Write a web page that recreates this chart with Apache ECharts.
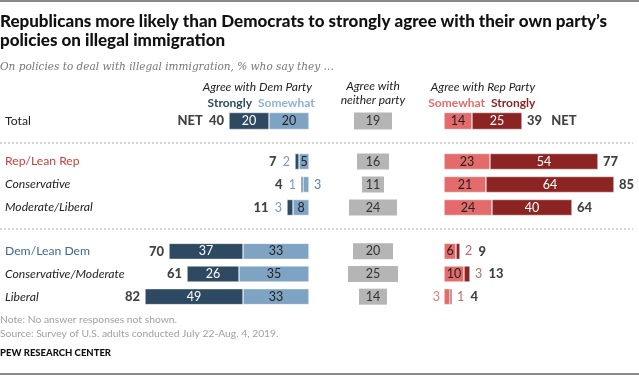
<!DOCTYPE html>
<html>
<head>
<meta charset="utf-8">
<script src="https://cdn.jsdelivr.net/npm/echarts@6/dist/echarts.min.js"></script>
<style>
  html, body { margin: 0; padding: 0; background: #fff; }
  #chart { width: 639px; height: 375px; }
</style>
</head>
<body>
<div id="chart"></div>
<script>
// data, rows top to bottom
const rows = ['Total', 'Rep/Lean Rep', 'Conservative', 'Moderate/Liberal', 'Dem/Lean Dem', 'Conservative/Moderate', 'Liberal'];
const groupSizes = [1, 3, 3];
const demStrongly = [20, 2, 1, 3, 37, 26, 49];
const demSomewhat = [20, 5, 3, 8, 33, 35, 33];
const demNet = [40, 7, 4, 11, 70, 61, 82];
const neither = [19, 16, 11, 24, 20, 25, 14];
const repSomewhat = [14, 23, 21, 24, 6, 10, 3];
const repStrongly = [25, 54, 64, 40, 2, 3, 1];
const repNet = [39, 77, 85, 64, 9, 13, 4];

const FONT = "Lato, 'Liberation Sans', sans-serif";
const NAVY = '#2e4a62', LBLUE = '#7fa3c2', GRAY = '#b5b5b5', LRED = '#e36b6b', DRED = '#8c2424';
const MIN_INSIDE = 5;

const rowStyle = {
  'Total': { color: '#222' },
  'Rep/Lean Rep': { color: '#c8413b' },
  'Conservative': { fontStyle: 'italic' },
  'Moderate/Liberal': { fontStyle: 'italic' },
  'Dem/Lean Dem': { color: '#3e6b97' },
  'Conservative/Moderate': { fontStyle: 'italic' },
  'Liberal': { fontStyle: 'italic' }
};

// block layout: Total, Rep block, Dem block
const blocks = [{ top: 112, height: 18, bar: 17 }, { top: 150, height: 69, bar: 16 }, { top: 240, height: 68, bar: 16 }];

const grid = [], xAxis = [], yAxis = [], series = [];
let start = 0;
blocks.forEach((b, g) => {
  const idx = [];
  for (let i = start; i < start + groupSizes[g]; i++) idx.push(i);
  start += groupSizes[g];
  const cats = idx.map(i => rows[i]);

  // dem / neither / rep grids
  const gb = { top: b.top, height: b.height, outerBoundsMode: 'none', containLabel: false };
  grid.push(Object.assign({ left: 109, width: 200 }, gb));
  grid.push(Object.assign({ left: 343, width: 60 }, gb));
  grid.push(Object.assign({ left: 444, width: 200 }, gb));
  xAxis.push({ gridIndex: g * 3, type: 'value', min: 0, max: 100, inverse: true, show: false });
  xAxis.push({ gridIndex: g * 3 + 1, type: 'value', min: 0, max: 30, show: false });
  xAxis.push({ gridIndex: g * 3 + 2, type: 'value', min: 0, max: 100, show: false });
  yAxis.push({
    gridIndex: g * 3, type: 'category', inverse: true, position: 'left',
    data: cats.map(c => ({ value: c, textStyle: Object.assign({ align: 'left' }, rowStyle[c]) })),
    axisLine: { show: false, onZero: false }, axisTick: { show: false },
    axisLabel: { align: 'left', margin: 104, fontSize: 12.2, color: '#222', fontFamily: FONT }
  });
  yAxis.push({ gridIndex: g * 3 + 1, type: 'category', inverse: true, data: cats, show: false });
  yAxis.push({ gridIndex: g * 3 + 2, type: 'category', inverse: true, data: cats, show: false });

  const base = { type: 'bar', barWidth: b.bar, silent: true };
  const sep = (color) => ({ color: color, borderColor: 'rgba(255,255,255,0.7)', borderWidth: 0.6 });
  const inLabel = (color) => ({ show: true, position: 'inside', color: color, fontSize: 12.5, fontFamily: FONT });

  // Dem side
  series.push(Object.assign({}, base, {
    xAxisIndex: g * 3, yAxisIndex: g * 3, stack: 'dem' + g, itemStyle: sep(LBLUE),
    data: idx.map(i => ({
      value: demSomewhat[i],
      label: demSomewhat[i] >= MIN_INSIDE ? inLabel('#222')
        : { show: true, position: 'right', distance: 5, color: '#5a7fa6', fontSize: 12.5, fontFamily: FONT }
    }))
  }));
  series.push(Object.assign({}, base, {
    xAxisIndex: g * 3, yAxisIndex: g * 3, stack: 'dem' + g, itemStyle: sep(NAVY),
    data: idx.map(i => ({
      value: demStrongly[i],
      label: demStrongly[i] >= MIN_INSIDE ? inLabel('#fff') : { show: false }
    }))
  }));
  series.push({
    type: 'scatter', xAxisIndex: g * 3, yAxisIndex: g * 3, symbolSize: 0, silent: true,
    data: idx.map(i => [demStrongly[i] + demSomewhat[i], rows[i]]),
    label: {
      show: true, position: 'left', distance: 5, fontFamily: FONT,
      formatter: p => {
        const i = rows.indexOf(p.value[1]);
        if (i === 0) return '{n|NET}  {n|' + demNet[i] + '}';
        if (demStrongly[i] < MIN_INSIDE) return '{n|' + demNet[i] + '}  {s|' + demStrongly[i] + '}';
        return '{n|' + demNet[i] + '}';
      },
      rich: {
        n: { fontWeight: 900, fontSize: 13, color: '#111', fontFamily: FONT },
        s: { fontSize: 12.5, color: '#5a7fa6', fontFamily: FONT }
      }
    }
  });

  // neither party, centred
  series.push(Object.assign({}, base, {
    xAxisIndex: g * 3 + 1, yAxisIndex: g * 3 + 1, stack: 'nei' + g,
    itemStyle: { color: 'transparent' }, data: idx.map(i => (30 - neither[i]) / 2)
  }));
  series.push(Object.assign({}, base, {
    xAxisIndex: g * 3 + 1, yAxisIndex: g * 3 + 1, stack: 'nei' + g,
    itemStyle: { color: GRAY }, label: inLabel('#333'), data: idx.map(i => neither[i])
  }));

  // Rep side
  series.push(Object.assign({}, base, {
    xAxisIndex: g * 3 + 2, yAxisIndex: g * 3 + 2, stack: 'rep' + g, itemStyle: sep(LRED),
    data: idx.map(i => ({
      value: repSomewhat[i],
      label: repSomewhat[i] >= MIN_INSIDE ? inLabel('#222')
        : { show: true, position: 'left', distance: 4, color: '#e87777', fontSize: 12.5, fontFamily: FONT }
    }))
  }));
  series.push(Object.assign({}, base, {
    xAxisIndex: g * 3 + 2, yAxisIndex: g * 3 + 2, stack: 'rep' + g, itemStyle: sep(DRED),
    data: idx.map(i => ({
      value: repStrongly[i],
      label: repStrongly[i] >= MIN_INSIDE ? inLabel('#fff') : { show: false }
    }))
  }));
  series.push({
    type: 'scatter', xAxisIndex: g * 3 + 2, yAxisIndex: g * 3 + 2, symbolSize: 0, silent: true,
    data: idx.map(i => [repStrongly[i] + repSomewhat[i], rows[i]]),
    label: {
      show: true, position: 'right', distance: 5, fontFamily: FONT,
      formatter: p => {
        const i = rows.indexOf(p.value[1]);
        if (i === 0) return '{n|' + repNet[i] + '}   {n|NET}';
        if (repStrongly[i] < MIN_INSIDE) return '{s|' + repStrongly[i] + '}  {n|' + repNet[i] + '}';
        return '{n|' + repNet[i] + '}';
      },
      rich: {
        n: { fontWeight: 900, fontSize: 13, color: '#111', fontFamily: FONT },
        s: { fontSize: 12.5, color: '#a94646', fontFamily: FONT }
      }
    }
  });
});

const txt = (x, y, text, style, extra) => Object.assign({
  type: 'text', x: x, y: y, silent: true,
  style: Object.assign({ text: text, fontFamily: FONT, fontSize: 12, fill: '#222', verticalAlign: 'middle' }, style)
}, extra || {});

// squeeze text drawn in a wider face to the width of the original
const ctx = document.createElement('canvas').getContext('2d');
const fitScale = (text, font, width) => { ctx.font = font; return width / ctx.measureText(text).width; };

const titleLines = ['Republicans more likely than Democrats to strongly agree with their own party\u2019s', 'policies on illegal immigration'];
const titleScale = fitScale(titleLines[0], "900 17px Lato, 'Liberation Sans', sans-serif", 607);
const titleStyle = { fontWeight: 900, fontSize: 17, fill: '#111' };
const subtitle = 'On policies to deal with illegal immigration, % who say they \u2026';
const SUB_FONT = "'DejaVu Serif', Georgia, serif";
const subScale = fitScale(subtitle, 'italic 11.5px ' + SUB_FONT, 334);

const chart = echarts.init(document.getElementById('chart'), null, { renderer: 'canvas' });
chart.setOption({
  animation: false,
  grid: grid, xAxis: xAxis, yAxis: yAxis, series: series,
  graphic: [
    { type: 'rect', shape: { x: 0, y: 0, width: 639, height: 2 }, style: { fill: '#8a8a8a' }, silent: true },
    { type: 'rect', shape: { x: 0, y: 373, width: 639, height: 2 }, style: { fill: '#8a8a8a' }, silent: true },
    { type: 'line', shape: { x1: 0, y1: 143, x2: 633, y2: 143 }, style: { stroke: '#aaa', lineWidth: 1, lineDash: [2, 2] }, silent: true },
    { type: 'line', shape: { x1: 0, y1: 229, x2: 633, y2: 229 }, style: { stroke: '#aaa', lineWidth: 1, lineDash: [2, 2] }, silent: true },
    txt(0, 22, titleLines[0], titleStyle, { scaleX: titleScale }),
    txt(0, 40.5, titleLines[1], titleStyle, { scaleX: titleScale }),
    txt(0, 67, subtitle, { fontFamily: SUB_FONT, fontStyle: 'italic', fontSize: 11.5, fill: '#777' }, { scaleX: subScale }),
    txt(312, 87, 'Agree with Dem Party', { fontStyle: 'italic', align: 'right' }),
    txt(252, 103, 'Strongly', { fontWeight: 'bold', fill: NAVY, align: 'right' }),
    txt(258, 103, 'Somewhat', { fontWeight: 'bold', fill: '#8fb1cf' }),
    txt(373, 86, 'Agree with', { fontStyle: 'italic', align: 'center' }),
    txt(373, 100, 'neither party', { fontStyle: 'italic', align: 'center' }),
    txt(483, 87, 'Agree with Rep Party', { fontStyle: 'italic', align: 'center' }),
    txt(485, 103, 'Somewhat', { fontWeight: 'bold', fill: '#e86a6a', align: 'right' }),
    txt(491, 103, 'Strongly', { fontWeight: 'bold', fill: DRED }),
    txt(0, 320, 'Note: No answer responses not shown.', { fontSize: 10.3, fill: '#a0a0a0' }),
    txt(0, 334, 'Source: Survey of U.S. adults conducted July 22-Aug. 4, 2019.', { fontSize: 10.3, fill: '#a0a0a0' }),
    txt(0, 353, 'PEW RESEARCH CENTER', { fontSize: 9.5, fontWeight: 900, fill: '#111' })
  ]
});
</script>
</body>
</html>
